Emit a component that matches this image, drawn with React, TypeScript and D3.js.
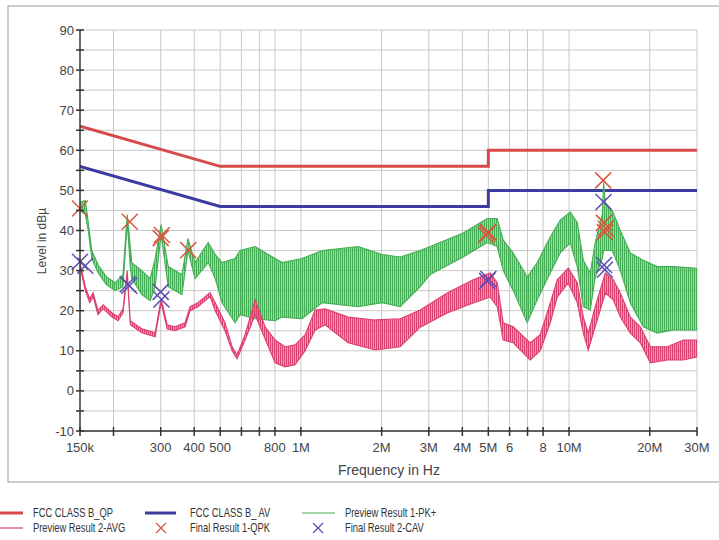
import React from "react";
import * as d3 from "d3";

// limit lines (MHz / dBµV)
const limitFreq = [0.15, 0.5, 5, 5, 30];
const qpLimit = [66, 56, 56, 60, 60];
const avLimit = [56, 46, 46, 50, 50];

// Preview Result 1-PK+ envelope (MHz, upper, lower)
const pkFreq = [0.15, 0.157, 0.161, 0.166, 0.175, 0.188, 0.203, 0.217, 0.225, 0.231, 0.234, 0.255, 0.274, 0.286, 0.301, 0.32, 0.36, 0.379, 0.403, 0.451, 0.479, 0.508, 0.568, 0.593, 0.675, 0.801, 0.851, 1.01, 1.2, 1.635, 2.009, 2.345, 2.786, 3.034, 4.029, 4.953, 5.396, 5.681, 6.192, 6.983, 7.608, 8.506, 9.27, 10.1, 10.73, 11.3, 12.0, 12.52, 13.3, 13.45, 13.65, 14.49, 15.53, 16.92, 18.91, 21.33, 24.48, 30];
const pkHi = [47, 47.5, 42, 35, 31.5, 28.5, 27, 29, 44, 36, 32, 30, 28, 33, 41.5, 31, 29, 38, 32, 37, 34, 32, 33, 35, 36, 33, 32, 33, 35, 36, 34, 33.4, 35, 36, 39.4, 43, 43, 37.6, 34.4, 28.4, 32, 38.4, 42.6, 44.6, 42, 32.6, 29.4, 37, 44, 52, 47, 45, 40, 34.4, 32.6, 31, 31, 30.6];
const pkLo = [45, 44, 40, 33, 29.5, 26.5, 25, 26, 42, 31, 28, 24, 22.5, 26, 39, 26, 24, 35, 28, 32, 28, 22, 17, 19, 18, 17.5, 18.4, 18, 22, 21, 22, 21, 26, 29, 33.4, 37, 36, 30, 25, 17, 22.7, 29.4, 34.4, 36.9, 31, 21, 20.2, 28.4, 33, 35, 35, 35, 30, 22, 16, 14.4, 15.2, 15.2];

// Preview Result 2-AVG envelope (MHz, upper, lower)
const avgFreq = [0.15, 0.157, 0.163, 0.168, 0.175, 0.183, 0.197, 0.208, 0.217, 0.225, 0.231, 0.255, 0.286, 0.301, 0.317, 0.339, 0.37, 0.386, 0.413, 0.458, 0.479, 0.521, 0.554, 0.578, 0.619, 0.675, 0.735, 0.801, 0.873, 0.951, 1.037, 1.13, 1.231, 1.5, 1.892, 2.345, 2.786, 3.511, 4.392, 5.082, 5.396, 5.681, 6.192, 7.164, 7.807, 8.506, 9.037, 9.93, 10.73, 11.3, 11.79, 12.52, 13.65, 14.62, 15.53, 16.92, 18.44, 20.09, 23.25, 26.67, 30];
const avgHi = [32, 26, 23, 24.5, 20, 21.5, 19.5, 18.5, 20.5, 30, 17.5, 15.5, 14.5, 23, 16.5, 16, 17, 21, 22, 24.5, 22, 17, 11, 9, 14, 22.7, 16, 12.7, 11, 11.5, 14, 20.2, 20.5, 18.4, 17.7, 18, 20.2, 24.4, 27.7, 29.4, 27, 17, 16, 12, 14, 21.9, 27.7, 30.6, 27, 18.4, 14.4, 21, 29.4, 27.7, 24.4, 18.4, 16, 11, 11, 12.7, 12.7];
const avgLo = [31, 25, 22, 23.5, 19, 20.5, 18.5, 17.5, 19.5, 29, 16.5, 14.5, 13.5, 22, 15.5, 15, 16, 20, 21, 23.5, 20, 15, 10, 8, 12.7, 19, 13, 7, 6, 6.5, 10, 15.2, 16.5, 12, 10.2, 11, 15.9, 19.4, 21.9, 23.4, 21, 12.7, 12, 7.7, 10, 17, 23.4, 26.9, 22, 14.4, 10.2, 16, 24.4, 22.7, 18.4, 14.4, 12, 7, 7.7, 7.7, 8.5];

// Final Result 1-QPK
const qpkFreq = [0.15, 0.23, 0.3, 0.303, 0.38, 4.9, 4.95, 5.0, 13.4, 13.5, 13.6, 13.7];
const qpkLevel = [45.5, 42.2, 38.1, 38.9, 35.1, 38.8, 39.3, 39.6, 52.5, 41.9, 39.6, 40.5];

// Final Result 2-CAV
const cavFreq = [0.15, 0.157, 0.226, 0.229, 0.3, 0.302, 4.95, 5.0, 13.45, 13.5, 13.6];
const cavLevel = [32.2, 31.2, 26.6, 26.2, 24.7, 22.8, 27.4, 27.9, 47.1, 31.4, 30.2];

const gridFreq = [0.2, 0.3, 0.4, 0.5, 0.6, 0.7, 0.8, 1, 2, 3, 4, 5, 6, 7, 8, 10, 20, 30];
const xTickFreq = [0.15, 0.3, 0.4, 0.5, 0.8, 1, 2, 3, 4, 5, 6, 8, 10, 20, 30];
const xTickLabel = ["150k", "300", "400", "500", "800", "1M", "2M", "3M", "4M", "5M", "6", "8", "10M", "20M", "30M"];
const yTicks = [-10, 0, 10, 20, 30, 40, 50, 60, 70, 80, 90];

const C_QP = "#d64a4a";
const C_AV = "#3b3ba0";
const C_PK = "#45ad55";
const C_AVG = "#d9416e";
const C_QPK = "#d9573f";
const C_CAV = "#5a4db0";
const FONT = "'Liberation Sans', Arial, sans-serif";

const left = 80, right = 697, top = 30, bottom = 431;

export default function App() {
  const x = d3.scaleLog().domain([0.15, 30]).range([left, right]);
  const y = d3.scaleLinear().domain([-10, 90]).range([bottom, top]);

  const line = d3.line<[number, number]>().x(d => x(d[0])).y(d => y(d[1]));
  const area = d3
    .area<number>()
    .x(i => x(pkFreq[i]))
    .y0(i => y(pkLo[i]))
    .y1(i => y(pkHi[i]));
  const areaAvg = d3
    .area<number>()
    .x(i => x(avgFreq[i]))
    .y0(i => y(avgLo[i]))
    .y1(i => y(avgHi[i]));

  const qp = limitFreq.map((f, i) => [f, qpLimit[i]] as [number, number]);
  const av = limitFreq.map((f, i) => [f, avLimit[i]] as [number, number]);

  const cross = (cx: number, cy: number, r: number, color: string, key: string, w = 1.5) => (
    <g key={key} stroke={color} strokeWidth={w}>
      <line x1={cx - r} y1={cy - r} x2={cx + r} y2={cy + r} />
      <line x1={cx - r} y1={cy + r} x2={cx + r} y2={cy - r} />
    </g>
  );

  const minorY = d3.range(-10, 91, 5);

  // condensed legend text
  const legendText = (tx: number, ty: number, s: string) => (
    <text transform={`translate(${tx},${ty}) scale(0.72,1)`}>{s}</text>
  );

  return (
    <svg width={719} height={540} style={{ position: "absolute", left: 0, top: 0, background: "#fff" }}>
      <defs>
        <clipPath id="plot">
          <rect x={left} y={top} width={right - left} height={bottom - top} />
        </clipPath>
        <pattern id="pkComb" width={2} height={8} patternUnits="userSpaceOnUse">
          <rect width={1.5} height={8} fill={C_PK} />
        </pattern>
        <pattern id="avgComb" width={2} height={8} patternUnits="userSpaceOnUse">
          <rect width={1.5} height={8} fill={C_AVG} />
        </pattern>
      </defs>

      <rect x={8} y={6} width={720} height={476} fill="none" stroke="#9a9a9a" strokeWidth={1} />

      {/* grid */}
      <g stroke="#c9c9c9" strokeWidth={1}>
        {minorY.map(v => (
          <line key={"gy" + v} x1={left} x2={right} y1={y(v)} y2={y(v)} />
        ))}
        {gridFreq.map(f => (
          <line key={"gx" + f} x1={x(f)} x2={x(f)} y1={top} y2={bottom} />
        ))}
      </g>

      <g clipPath="url(#plot)">
        <path d={line(qp) || ""} fill="none" stroke={C_QP} strokeWidth={3} />
        <path d={line(av) || ""} fill="none" stroke={C_AV} strokeWidth={3} />
        <path d={area(d3.range(pkFreq.length)) || ""} fill="url(#pkComb)" stroke={C_PK} strokeWidth={1.1} />
        <path d={areaAvg(d3.range(avgFreq.length)) || ""} fill="url(#avgComb)" stroke={C_AVG} strokeWidth={1.1} />
      </g>

      {qpkFreq.map((f, i) => cross(x(f), y(qpkLevel[i]), 8, C_QPK, "q" + i))}
      {cavFreq.map((f, i) => cross(x(f), y(cavLevel[i]), 8, C_CAV, "c" + i))}

      {/* axes */}
      <g stroke="#333" strokeWidth={1.5}>
        <line x1={left} x2={left} y1={top} y2={bottom} />
        <line x1={left} x2={right} y1={bottom} y2={bottom} />
        {minorY.map(v => (
          <line key={"ty" + v} x1={left - 4} x2={left + 4} y1={y(v)} y2={y(v)} />
        ))}
        {[0.15, ...gridFreq].map(f => (
          <line key={"tx" + f} x1={x(f)} x2={x(f)} y1={bottom - 4} y2={bottom + 5} />
        ))}
      </g>

      <g fontFamily={FONT} fontSize={13} fill="#444">
        {yTicks.map(v => (
          <text key={"ly" + v} x={left - 6} y={y(v)} dy="0.35em" textAnchor="end">
            {v}
          </text>
        ))}
        {xTickFreq.map((f, i) => (
          <text key={"lx" + f} x={x(f)} y={452} textAnchor="middle">
            {xTickLabel[i]}
          </text>
        ))}
        <text x={389} y={475} textAnchor="middle" fontSize={14}>
          Frequency in Hz
        </text>
        <text transform="translate(46,241) rotate(-90)" textAnchor="middle" fontSize={12}>
          Level in dBµ
        </text>
      </g>

      {/* legend */}
      <g fontFamily={FONT} fontSize={13} fill="#333">
        <line x1={0} x2={23} y1={513} y2={513} stroke={C_QP} strokeWidth={3} />
        {legendText(33, 517, "FCC CLASS B_QP")}
        <line x1={0} x2={23} y1={528} y2={528} stroke={C_AVG} strokeWidth={1.2} />
        {legendText(33, 532, "Preview Result 2-AVG")}

        <line x1={145} x2={176} y1={513} y2={513} stroke={C_AV} strokeWidth={3} />
        {legendText(190, 517, "FCC CLASS B_ AV")}
        {cross(161, 528, 5, C_QPK, "lq", 1.2)}
        {legendText(190, 532, "Final Result 1-QPK")}

        <line x1={302} x2={335} y1={513} y2={513} stroke={C_PK} strokeWidth={1.2} />
        {legendText(345, 517, "Preview Result 1-PK+")}
        {cross(318, 528, 5, C_CAV, "lc", 1.2)}
        {legendText(345, 532, "Final Result 2-CAV")}
      </g>
    </svg>
  );
}
